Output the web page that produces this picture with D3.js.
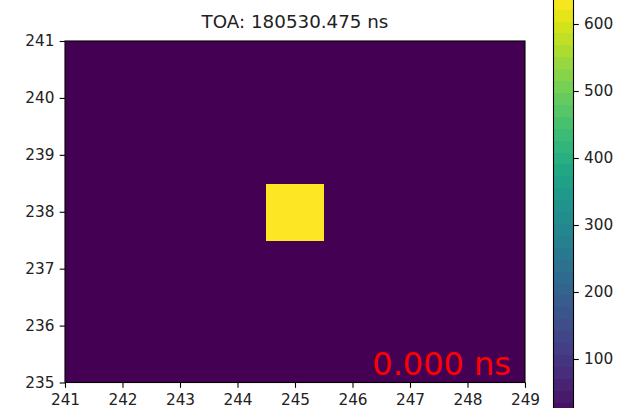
<!DOCTYPE html>
<html>
<head>
<meta charset="utf-8">
<script src="https://cdn.jsdelivr.net/npm/d3@7"></script>
<style>
  body { margin: 0; background: #fff; }
  svg { display: block; font-family: "DejaVu Sans", sans-serif; }
</style>
</head>
<body>
<div class="svg-container"></div>
<script>
// pixel grid shown in the frame (column / row numbers)
const xPixels = [241, 242, 243, 244, 245, 246, 247, 248, 249];
const yPixels = [235, 236, 237, 238, 239, 240, 241];

// counts per pixel, rows follow yPixels, columns follow xPixels
const counts = [
  [0, 0, 0, 0, 0, 0, 0, 0, 0],
  [0, 0, 0, 0, 0, 0, 0, 0, 0],
  [0, 0, 0, 0, 0, 0, 0, 0, 0],
  [0, 0, 0, 0, 640, 0, 0, 0, 0],
  [0, 0, 0, 0, 0, 0, 0, 0, 0],
  [0, 0, 0, 0, 0, 0, 0, 0, 0],
  [0, 0, 0, 0, 0, 0, 0, 0, 0],
];

const xTicks = [241, 242, 243, 244, 245, 246, 247, 248, 249];
const yTicks = [235, 236, 237, 238, 239, 240, 241];
const cbTicks = [100, 200, 300, 400, 500, 600];

const titleText = "TOA: 180530.475 ns";
const timeText = "0.000 ns";

const vmin = 0;
const vmax = 640;
const nBands = 36;

const width = 641;
const height = 408;

const tickFont = "15.3px";
const tickLen = 5.3;

// plot frame
const plot = { left: 65, top: 41, right: 525, bottom: 382.5 };
// colorbar frame
const cb = { left: 553.5, right: 573.5 };

const svg = d3
  .select(".svg-container")
  .append("svg")
  .attr("width", width)
  .attr("height", height);

const x = d3.scaleLinear().domain([241, 249]).range([plot.left, plot.right]);
const y = d3.scaleLinear().domain([235, 241]).range([plot.bottom, plot.top]);
const color = d3.scaleSequential(d3.interpolateViridis).domain([vmin, vmax]);

// colorbar scale, 600 sits at y=24 and 100 at y=359
const cbY = d3.scaleLinear().domain([100, 600]).range([359, 24]);

svg
  .append("defs")
  .append("clipPath")
  .attr("id", "plotClip")
  .append("rect")
  .attr("x", plot.left)
  .attr("y", plot.top)
  .attr("width", plot.right - plot.left)
  .attr("height", plot.bottom - plot.top);

// image cells, each centred on its pixel number
const cells = [];
yPixels.forEach((py, i) => {
  xPixels.forEach((px, j) => {
    cells.push({ px: px, py: py, v: counts[i][j] });
  });
});

svg
  .append("g")
  .attr("clip-path", "url(#plotClip)")
  .attr("shape-rendering", "crispEdges")
  .selectAll("rect")
  .data(cells)
  .enter()
  .append("rect")
  .attr("x", (d) => x(d.px - 0.5))
  .attr("y", (d) => y(d.py + 0.5))
  .attr("width", (d) => x(d.px + 0.5) - x(d.px - 0.5) + 0.5)
  .attr("height", (d) => y(d.py - 0.5) - y(d.py + 0.5) + 0.5)
  .attr("fill", (d) => color(d.v));

// time label in the corner
svg
  .append("text")
  .attr("x", 511)
  .attr("y", 375)
  .attr("text-anchor", "end")
  .attr("font-size", "32px")
  .attr("fill", "#ff0000")
  .text(timeText);

// frame
svg
  .append("rect")
  .attr("x", plot.left)
  .attr("y", plot.top)
  .attr("width", plot.right - plot.left)
  .attr("height", plot.bottom - plot.top)
  .attr("fill", "none")
  .attr("stroke", "#000")
  .attr("stroke-width", 1.1);

// axes
const xAxis = svg
  .append("g")
  .attr("transform", `translate(0,${plot.bottom})`)
  .call(d3.axisBottom(x).tickValues(xTicks).tickSize(tickLen).tickPadding(tickLen).tickFormat(d3.format("d")));

const yAxis = svg
  .append("g")
  .attr("transform", `translate(${plot.left},0)`)
  .call(d3.axisLeft(y).tickValues(yTicks).tickSize(tickLen).tickPadding(tickLen).tickFormat(d3.format("d")));

[xAxis, yAxis].forEach((ax) => {
  ax.select(".domain").remove();
  ax.selectAll("line").attr("stroke", "#000").attr("stroke-width", 1.1);
  ax.selectAll("text").attr("font-size", tickFont).attr("fill", "#222").attr("font-family", "DejaVu Sans");
});
xAxis.selectAll("text").attr("dy", "0.76em");

// title
svg
  .append("text")
  .attr("x", (plot.left + plot.right) / 2)
  .attr("y", 28)
  .attr("text-anchor", "middle")
  .attr("font-size", "18.3px")
  .attr("fill", "#222")
  .text(titleText);

// colorbar bands
const bandStep = (vmax - vmin) / nBands;
const bands = d3.range(nBands).map((i) => ({
  lo: vmin + i * bandStep,
  hi: vmin + (i + 1) * bandStep,
}));

svg
  .append("g")
  .attr("shape-rendering", "crispEdges")
  .selectAll("rect")
  .data(bands)
  .enter()
  .append("rect")
  .attr("x", cb.left)
  .attr("y", (d) => cbY(d.hi))
  .attr("width", cb.right - cb.left)
  .attr("height", (d) => cbY(d.lo) - cbY(d.hi) + 0.5)
  .attr("fill", (d) => color((d.lo + d.hi) / 2));

svg
  .append("rect")
  .attr("x", cb.left)
  .attr("y", cbY(vmax))
  .attr("width", cb.right - cb.left)
  .attr("height", cbY(vmin) - cbY(vmax))
  .attr("fill", "none")
  .attr("stroke", "#000")
  .attr("stroke-width", 1.1);

const cbAxis = svg
  .append("g")
  .attr("transform", `translate(${cb.right},0)`)
  .call(d3.axisRight(cbY).tickValues(cbTicks).tickSize(tickLen).tickPadding(tickLen).tickFormat(d3.format("d")));

cbAxis.select(".domain").remove();
cbAxis.selectAll("line").attr("stroke", "#000").attr("stroke-width", 1.1);
cbAxis.selectAll("text").attr("font-size", tickFont).attr("fill", "#222").attr("font-family", "DejaVu Sans");
</script>
</body>
</html>
